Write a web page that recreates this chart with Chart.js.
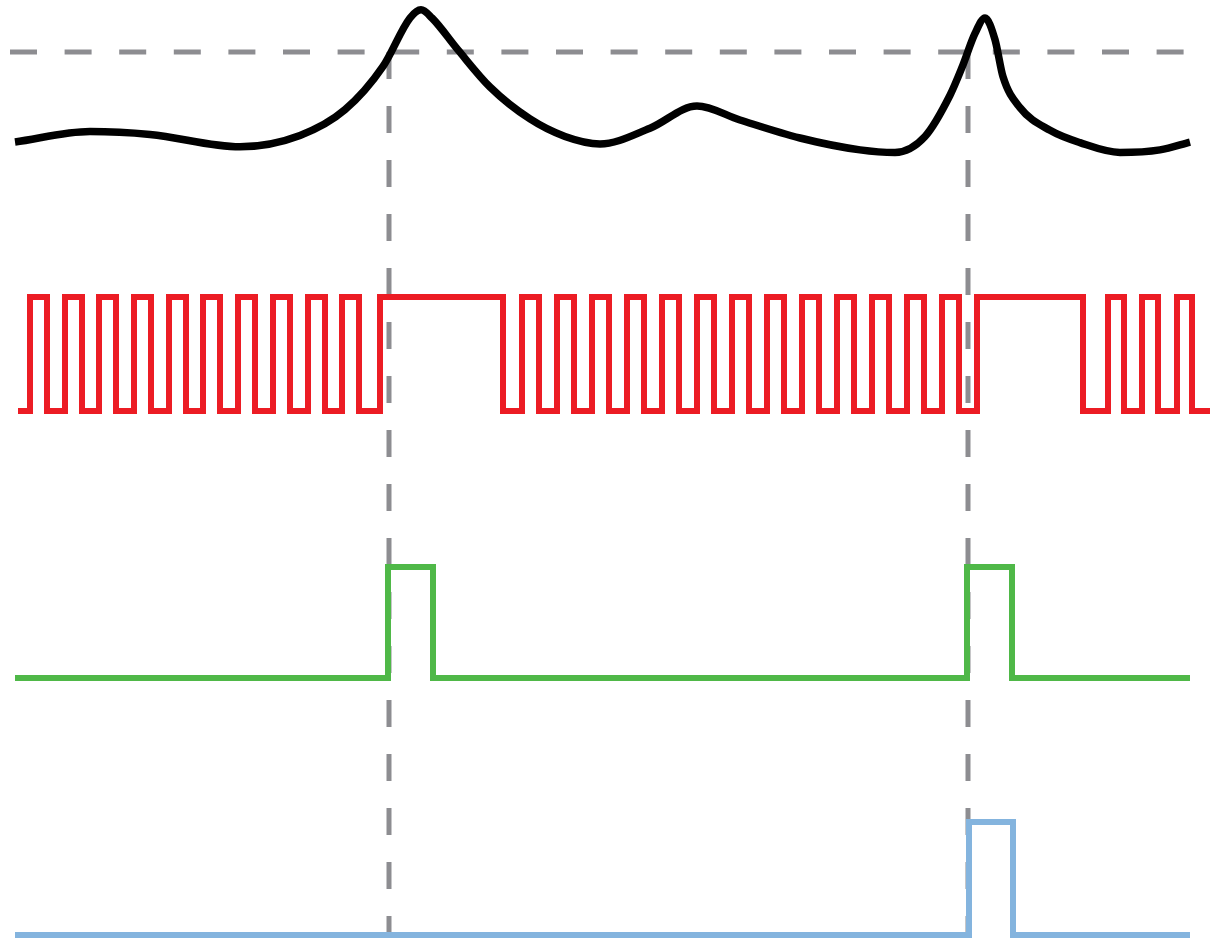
<!DOCTYPE html>
<html>
<head>
<meta charset="utf-8">
<script src="https://cdn.jsdelivr.net/npm/chart.js@4.4.1/dist/chart.umd.min.js"></script>
<style>
  html, body { margin: 0; padding: 0; background: #ffffff; }
  canvas { display: block; }
</style>
</head>
<body>
<canvas id="c" width="1211" height="943"></canvas>
<script>
// ---------- data ----------
// Sensor signal (black), threshold = 100
const senseTime  = [15, 90, 150, 240, 300, 345, 383, 410, 421, 432, 458, 490, 530, 565, 600, 650, 697, 740, 800, 860, 895, 925, 950, 962, 975, 985, 995, 1003, 1020, 1050, 1080, 1120, 1160, 1190];
const senseValue = [12.6, 22.8, 20, 8, 19, 44, 86, 133, 141, 133, 102, 66, 35, 18, 10.7, 26, 47.6, 34, 16.5, 5, 2.5, 18, 58, 85, 118, 133, 112, 76, 46, 24, 12, 2.5, 5, 12.6];
const threshold = 100;
const thresholdSpan = [10, 1186];

// Clock signal (red): rising and falling edge times
const redRise = [30, 65, 99, 134, 169, 203, 238, 273, 308, 342, 380, 522, 557, 592, 627, 662, 697, 732, 767, 802, 837, 872, 907, 942, 977, 1108, 1142, 1177];
const redFall = [47, 82, 116, 151, 186, 220, 255, 290, 325, 359, 503, 539, 574, 609, 644, 679, 714, 749, 784, 819, 854, 889, 924, 959, 1083, 1124, 1158, 1192];
const redSpan = [18, 1210];

// Green pulse signal
const greenRise = [388, 967];
const greenFall = [433, 1012];
const greenSpan = [15, 1190];

// Blue pulse signal
const blueRise = [969];
const blueFall = [1013];
const blueSpan = [15, 1190];

// Times where the sensor crosses the threshold (vertical markers)
const crossTimes = [389, 968];

// ---------- layout (band placement of each trace) ----------
const W = 1211, H = 943;
const bands = {
  ySense: { p0: 155, p1: 52, unit: 100 },
  yRed:   { p0: 411, p1: 297, unit: 1 },
  yGreen: { p0: 678, p1: 567, unit: 1 },
  yBlue:  { p0: 935, p1: 822, unit: 1 }
};
function axis(b) {
  const k = (b.p0 - b.p1) / b.unit;
  return { display: false, min: (b.p0 - H) / k, max: b.p0 / k };
}
function stepPoints(rise, fall, span) {
  const ev = rise.map(t => ({ x: t, y: 1 })).concat(fall.map(t => ({ x: t, y: 0 })));
  ev.sort((a, b) => a.x - b.x);
  return [{ x: span[0], y: 0 }].concat(ev, [{ x: span[1], y: 0 }]);
}

const GRAY = '#8d8d91';

const markerPlugin = {
  id: 'crossMarkers',
  beforeDatasetsDraw(chart) {
    const ctx = chart.ctx;
    const xs = chart.scales.x, ys = chart.scales.ySense, yb = chart.scales.yBlue;
    ctx.save();
    ctx.strokeStyle = GRAY;
    ctx.lineWidth = 5;
    ctx.setLineDash([27, 27]);
    crossTimes.forEach(t => {
      const px = xs.getPixelForValue(t);
      ctx.beginPath();
      ctx.moveTo(px, ys.getPixelForValue(threshold));
      ctx.lineTo(px, yb.getPixelForValue(0));
      ctx.stroke();
    });
    ctx.restore();
  }
};

const common = { pointRadius: 0, pointHoverRadius: 0, fill: false, clip: false, borderCapStyle: 'butt' };

new Chart(document.getElementById('c'), {
  type: 'line',
  data: {
    datasets: [
      Object.assign({}, common, {
        label: 'threshold', yAxisID: 'ySense', order: 10,
        data: thresholdSpan.map(t => ({ x: t, y: threshold })),
        borderColor: GRAY, borderWidth: 5, borderDash: [27, 27.6]
      }),
      Object.assign({}, common, {
        label: 'sensor', yAxisID: 'ySense', order: 0,
        data: senseTime.map((t, i) => ({ x: t, y: senseValue[i] })),
        borderColor: '#000000', borderWidth: 7.5, cubicInterpolationMode: 'monotone',
        borderJoinStyle: 'round'
      }),
      Object.assign({}, common, {
        label: 'clock', yAxisID: 'yRed', order: 0,
        data: stepPoints(redRise, redFall, redSpan),
        borderColor: '#ec1c24', borderWidth: 6, stepped: 'before', borderJoinStyle: 'miter'
      }),
      Object.assign({}, common, {
        label: 'green', yAxisID: 'yGreen', order: 0,
        data: stepPoints(greenRise, greenFall, greenSpan),
        borderColor: '#4fb848', borderWidth: 6, stepped: 'before', borderJoinStyle: 'miter'
      }),
      Object.assign({}, common, {
        label: 'blue', yAxisID: 'yBlue', order: 0,
        data: stepPoints(blueRise, blueFall, blueSpan),
        borderColor: '#84b4de', borderWidth: 6, stepped: 'before', borderJoinStyle: 'miter'
      })
    ]
  },
  options: {
    responsive: false,
    animation: false,
    devicePixelRatio: 1,
    layout: { padding: 0 },
    scales: {
      x: { type: 'linear', display: false, min: 0, max: W },
      ySense: axis(bands.ySense),
      yRed: axis(bands.yRed),
      yGreen: axis(bands.yGreen),
      yBlue: axis(bands.yBlue)
    },
    plugins: { legend: { display: false }, tooltip: { enabled: false } }
  },
  plugins: [markerPlugin]
});
</script>
</body>
</html>
